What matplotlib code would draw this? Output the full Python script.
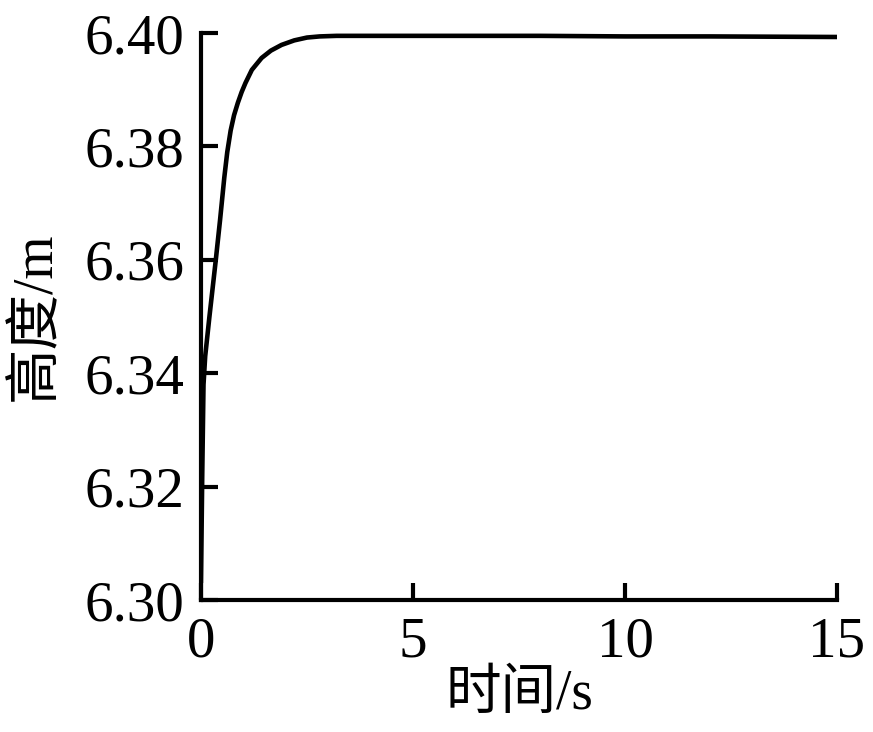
import matplotlib
matplotlib.use("Agg")
import matplotlib.pyplot as plt

time_s = [0.0, 0.03, 0.06, 0.1, 0.2, 0.35, 0.45, 0.55, 0.62, 0.7, 0.78, 0.87,
          0.96, 1.05, 1.2, 1.43, 1.65, 1.9, 2.2, 2.5, 2.8, 3.2, 5.0, 8.0,
          10.0, 12.0, 15.0]
height_m = [6.303, 6.322, 6.338, 6.343, 6.350, 6.360, 6.3670, 6.3745, 6.3790,
            6.3828, 6.3855, 6.3877, 6.3896, 6.3912, 6.3935, 6.3956, 6.3969,
            6.3979, 6.3987, 6.3992, 6.3994, 6.3995, 6.3995, 6.3995, 6.3994,
            6.3994, 6.3993]
xticks = [0, 5, 10, 15]
yticks = [6.30, 6.32, 6.34, 6.36, 6.38, 6.40]
ytick_labels = ["6.30", "6.32", "6.34", "6.36", "6.38", "6.40"]

fam = ["Liberation Serif", "Noto Sans CJK SC", "DejaVu Sans"]
plt.rcParams["font.family"] = fam
plt.rcParams["xtick.direction"] = "in"
plt.rcParams["ytick.direction"] = "in"

fig = plt.figure(figsize=(8.73, 7.32), dpi=100)
ax = fig.add_axes([0.2302, 0.1803, 0.9588 - 0.2302, 0.9549 - 0.1803])
ax.plot(time_s, height_m, color="black", lw=3.3, solid_joinstyle="round",
        solid_capstyle="butt")
ax.set_xlim(0, 15)
ax.set_ylim(6.30, 6.40)
ax.set_xticks(xticks)
ax.set_xticklabels([str(v) for v in xticks])
ax.set_yticks(yticks)
ax.set_yticklabels(ytick_labels)
for s in ["top", "right"]:
    ax.spines[s].set_visible(False)
for s in ["left", "bottom"]:
    ax.spines[s].set_linewidth(3.0)
ax.tick_params(axis="both", which="major", direction="in", length=12,
               width=3.0, labelsize=41, pad=12)
ax.set_xlabel("时间/s", fontsize=40, labelpad=0)
ax.set_ylabel("高度/m", fontsize=40, labelpad=16)
fig.savefig("out.png", dpi=100)
